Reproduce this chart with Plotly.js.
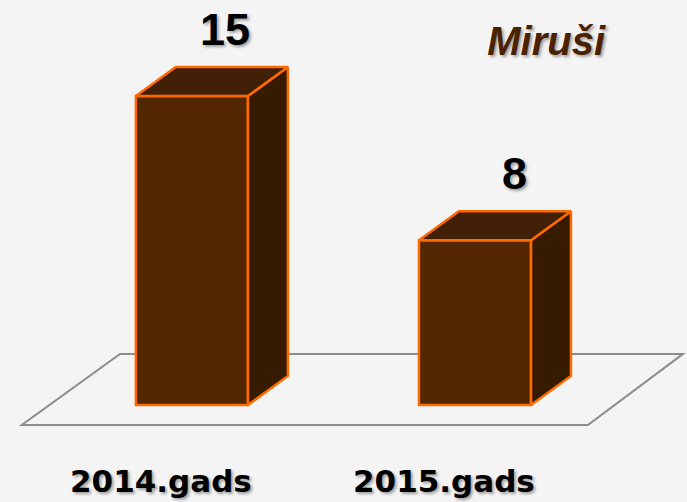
<!DOCTYPE html>
<html>
<head>
<meta charset="utf-8">
<script src="https://cdn.plot.ly/plotly-3.0.1.min.js"></script>
<style>html,body{margin:0;padding:0;background:#f4f4f4;}#chart{width:687px;height:502px;}</style>
</head>
<body>
<div id="chart"></div>
<script>
// Data
const categories = ["2014.gads", "2015.gads"];
const values = [15, 8];
const seriesName = "Miruši";

// Styling / geometry (oblique 3D look)
const barWidth = 0.396;
const depthX = 0.141;   // depth offset in x units
const depthY = 1.41;    // depth offset in value units
const frontColor = "#532800";
const topColor = "#422008";
const sideColor = "#361b00";
const edgeColor = "#ff6a00";
const labelShiftX = [-7, 0];

const xIdx = categories.map((c, i) => i);
const traces = [];

// side and top faces computed from values
values.forEach((v, i) => {
  const x0 = i - barWidth / 2, x1 = i + barWidth / 2;
  traces.push({
    type: "scatter", mode: "lines", fill: "toself", fillcolor: sideColor,
    x: [x1, x1, x1 + depthX, x1 + depthX, x1],
    y: [0, v, v + depthY, depthY, 0],
    line: {color: edgeColor, width: 2.5}, hoverinfo: "skip", showlegend: false
  });
  traces.push({
    type: "scatter", mode: "lines", fill: "toself", fillcolor: topColor,
    x: [x0, x1, x1 + depthX, x0 + depthX, x0],
    y: [v, v, v + depthY, v + depthY, v],
    line: {color: edgeColor, width: 2.5}, hoverinfo: "skip", showlegend: false
  });
});

// front faces
traces.unshift({
  type: "bar", x: xIdx, y: values, width: barWidth, name: seriesName,
  marker: {color: frontColor, line: {color: edgeColor, width: 2.5}},
  hoverinfo: "y", showlegend: false
});

const annotations = [];
values.forEach((v, i) => {
  annotations.push({
    x: i + depthX, y: v + depthY, xref: "x", yref: "y",
    text: String(v), showarrow: false, yanchor: "bottom", yshift: 10, xshift: labelShiftX[i],
    font: {family: "Liberation Sans, Arial, sans-serif", size: 45, color: "#000", weight: "bold",
           shadow: "2px 2px 3px rgba(0,0,0,0.35)"}
  });
});
categories.forEach((c, i) => {
  annotations.push({
    x: i - 0.108, y: -3.7, xref: "x", yref: "y",
    text: c, showarrow: false, yanchor: "middle",
    font: {family: "DejaVu Sans, sans-serif", size: 31, color: "#000", weight: "bold",
           shadow: "2px 2px 3px rgba(0,0,0,0.35)"}
  });
});

// floor (decorative plane)
const floorFront = -0.97, floorBack = 2.48;
const floorPath = `M -0.601 ${floorFront} L 1.399 ${floorFront} L 1.735 ${floorBack} L -0.254 ${floorBack} Z`;

const layout = {
  width: 687, height: 502,
  margin: {l: 0, r: 0, t: 0, b: 0},
  paper_bgcolor: "#f4f4f4", plot_bgcolor: "#f4f4f4",
  showlegend: false,
  title: {
    text: "<i><b>" + seriesName + "</b></i>",
    x: 0.795, xanchor: "center", y: 0.918, yanchor: "middle",
    font: {family: "Liberation Sans, Arial, sans-serif", size: 40, color: "#4a2200",
           shadow: "2px 2px 3px rgba(0,0,0,0.35)"}
  },
  xaxis: {range: [-0.678, 1.749], visible: false, fixedrange: true},
  yaxis: {range: [-4.71, 19.66], visible: false, fixedrange: true},
  shapes: [{type: "path", path: floorPath, xref: "x", yref: "y", layer: "below",
            line: {color: "#8c8c8c", width: 2}, fillcolor: "rgba(0,0,0,0)"}],
  annotations: annotations
};

Plotly.newPlot("chart", traces, layout, {displayModeBar: false, staticPlot: true});
</script>
</body>
</html>
